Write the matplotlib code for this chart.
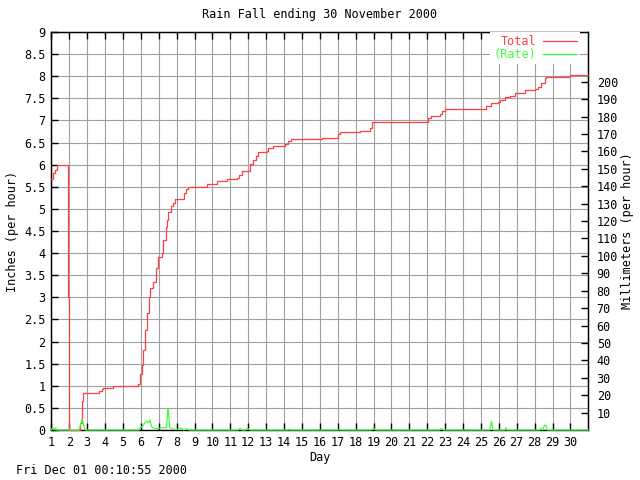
import matplotlib
matplotlib.use("Agg")
import matplotlib.pyplot as plt

# cumulative rain total (inches)
total_day = [1.0, 1.02, 1.08, 1.19, 1.34, 1.95, 2.0, 2.56, 2.63, 2.70, 2.74, 2.79,
             3.35, 3.68, 3.81, 3.90, 4.43, 5.86, 5.95, 6.05, 6.14, 6.23, 6.33,
             6.46, 6.54, 6.68, 6.85, 6.97, 7.16, 7.25, 7.40, 7.48, 7.53, 7.67,
             7.81, 7.91, 8.41, 8.50, 8.65, 9.68, 10.23, 10.83, 11.35, 11.48,
             11.63, 12.09, 12.28, 12.43, 12.56, 13.03, 13.12, 13.38, 14.05,
             14.23, 14.37, 16.15, 16.99, 17.12, 18.24, 18.79, 18.89, 22.05,
             22.2, 22.70, 22.8, 22.98, 25.31, 25.59, 25.96, 26.05, 26.33,
             26.61, 26.89, 27.45, 28.0, 28.19, 28.38, 28.56, 28.62, 30.0, 31.0]
total_in = [5.68, 5.68, 5.82, 5.88, 6.0, 3.0, 0.0, 0.0, 0.15, 0.45, 0.65, 0.83,
            0.84, 0.89, 0.93, 0.96, 1.0, 1.03, 1.27, 1.47, 1.81, 2.26, 2.65,
            3.0, 3.2, 3.35, 3.66, 3.92, 4.0, 4.3, 4.6, 4.75, 4.94, 5.07,
            5.14, 5.22, 5.35, 5.44, 5.50, 5.56, 5.63, 5.67, 5.69, 5.77,
            5.86, 6.02, 6.11, 6.2, 6.28, 6.32, 6.37, 6.42, 6.47,
            6.54, 6.58, 6.6, 6.69, 6.75, 6.77, 6.82, 6.96, 7.06,
            7.09, 7.15, 7.21, 7.27, 7.33, 7.39, 7.42, 7.46, 7.52,
            7.56, 7.61, 7.69, 7.7, 7.75, 7.84, 7.95, 7.99, 8.03, 8.03]

# rain rate (inches per hour)
rate_day = [1.0, 1.05, 1.15, 1.2, 1.25, 1.3, 2.5, 2.56, 2.62, 2.72, 2.78, 2.85, 2.9,
            5.9, 5.95, 6.1, 6.23, 6.32, 6.41, 6.5, 6.6, 6.68, 6.87, 7.15, 7.43,
            7.52, 7.56, 7.62, 7.72, 7.98, 8.25, 8.4, 8.55, 8.7,
            11.45, 11.5, 11.6, 11.65, 11.85, 11.9, 12.0, 12.1,
            14.25, 14.3, 14.35, 17.05, 17.1, 17.15, 18.9, 18.95, 19.05, 19.1,
            22.7, 22.75, 22.85, 22.9, 25.5, 25.55, 25.6, 25.65, 25.7,
            26.35, 26.4, 26.45, 28.3, 28.35, 28.45, 28.55, 28.65, 28.7, 31.0]
rate_in = [0.0, 0.04, 0.04, 0.0, 0.05, 0.0, 0.0, 0.02, 0.1, 0.24, 0.16, 0.05, 0.0,
           0.0, 0.05, 0.08, 0.17, 0.2, 0.17, 0.23, 0.07, 0.05, 0.03, 0.05, 0.05,
           0.47, 0.34, 0.05, 0.03, 0.01, 0.04, 0.0, 0.03, 0.0,
           0.0, 0.03, 0.03, 0.0, 0.0, 0.03, 0.03, 0.0,
           0.0, 0.02, 0.0, 0.0, 0.02, 0.0, 0.0, 0.03, 0.03, 0.0,
           0.0, 0.03, 0.02, 0.0, 0.0, 0.1, 0.2, 0.05, 0.0,
           0.0, 0.05, 0.0, 0.0, 0.04, 0.0, 0.11, 0.1, 0.0, 0.0]

days = list(range(1, 31))
inch_ticks = [i * 0.5 for i in range(19)]
mm_ticks = list(range(10, 210, 10))

red = "#ff4040"
green = "#40ff40"
grid = "#a0a0a0"
font = "DejaVu Sans Mono"
fs = 8.5

plt.rcParams['font.family'] = font

fig = plt.figure(figsize=(6.4, 4.8), dpi=100)
ax = fig.add_axes([51.3 / 640, 50 / 480, 537 / 640, 398 / 480])

ax.set_xlim(1, 31)
ax.set_ylim(0, 9)
ax.set_xticks(days)
ax.set_yticks(inch_ticks)
ax.set_yticklabels(["%g" % t for t in inch_ticks])
ax.grid(True, color=grid, lw=0.8, zorder=1)
ax.tick_params(direction="in", length=5, width=1, labelsize=fs, top=True, right=True,
               pad=4, colors="black")
for s in ax.spines.values():
    s.set_linewidth(1.0)

ax2 = ax.twinx()
ax2.set_ylim(0, 9 * 25.4)
ax2.set_yticks(mm_ticks)
ax2.tick_params(direction="in", length=5, width=1, labelsize=fs, pad=6)
ax2.spines["bottom"].set_visible(False)

# draw the series on the top axes so they sit above the frame
ax2.plot([], [])
l1, = ax2.plot([d for d in total_day], [v * 25.4 for v in total_in], color=red, lw=0.9,
               drawstyle="steps-post", label="Total", zorder=3, clip_on=False)
l2, = ax2.plot(rate_day, [v * 25.4 for v in rate_in], color=green, lw=0.9,
               label="(Rate)", zorder=3, clip_on=False)
ax2.set_xlim(1, 31)

ax.set_title("Rain Fall ending 30 November 2000", fontsize=fs, pad=10)
ax.set_xlabel("Day", fontsize=fs, labelpad=2)
ax.set_ylabel("Inches (per hour)", fontsize=fs, labelpad=4)
ax2.set_ylabel("Millimeters (per hour)", fontsize=fs, labelpad=2)

leg = ax2.legend(handles=[l1, l2], loc="upper right", bbox_to_anchor=(0.985, 1.0),
                 markerfirst=False, frameon=True, fancybox=False, edgecolor="none",
                 facecolor="white", framealpha=1.0, fontsize=fs, handlelength=2.9,
                 handletextpad=0.6, labelspacing=0.0, borderpad=0.25,
                 borderaxespad=0.0, labelcolor="linecolor")
leg.set_zorder(5)

fig.text(16 / 640, 1 - 470 / 480, "Fri Dec 01 00:10:55 2000", fontsize=fs, va="center")

fig.savefig("out.png", dpi=100)
